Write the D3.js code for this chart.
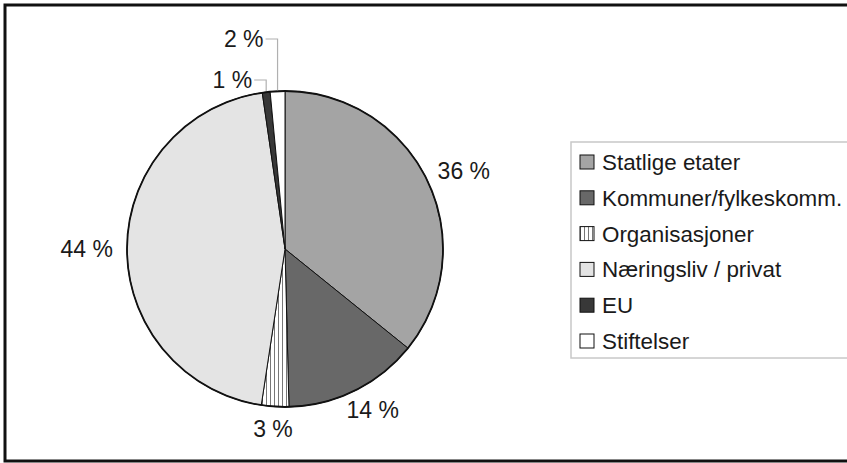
<!DOCTYPE html>
<html>
<head>
<meta charset="utf-8">
<script src="https://cdn.jsdelivr.net/npm/d3@7"></script>
<style>
  body { margin: 0; background: #fff; }
  svg { display: block; font-family: "Liberation Sans", Arial, sans-serif; }
</style>
</head>
<body>
<div id="chart"></div>
<script>
const categories = ["Statlige etater", "Kommuner/fylkeskomm.", "Organisasjoner", "Næringsliv / privat", "EU", "Stiftelser"];
const shares = [35.8, 13.8, 2.8, 45.3, 0.8, 1.5];
const labels = ["36 %", "14 %", "3 %", "44 %", "1 %", "2 %"];
const fills = ["#a4a4a4", "#686868", "url(#stripes)", "#e4e4e4", "#383838", "#ffffff"];

const W = 847, H = 463;
const cx = 285, cy = 249, r = 158;
const fs = 23;

const svg = d3.select("#chart")
  .append("svg")
  .attr("width", W)
  .attr("height", H);

// striped pattern for Organisasjoner
const pat = svg.append("defs")
  .append("pattern")
  .attr("id", "stripes")
  .attr("patternUnits", "userSpaceOnUse")
  .attr("width", 4)
  .attr("height", 4);
pat.append("rect").attr("width", 4).attr("height", 4).attr("fill", "#fff");
pat.append("line")
  .attr("x1", 1.5).attr("x2", 1.5)
  .attr("y1", 0).attr("y2", 4)
  .attr("stroke", "#777")
  .attr("stroke-width", 1);

// outer frame (right edge lies outside the picture)
svg.append("rect")
  .attr("x", 5)
  .attr("y", 5)
  .attr("width", W + 20)
  .attr("height", 456)
  .attr("fill", "none")
  .attr("stroke", "#111")
  .attr("stroke-width", 3);

const data = categories.map((c, i) => ({ name: c, value: shares[i], label: labels[i], fill: fills[i] }));

const pie = d3.pie().sort(null).value((d) => d.value);
const arcs = pie(data);
const arc = d3.arc().innerRadius(0).outerRadius(r);

const g = svg.append("g").attr("transform", "translate(" + cx + "," + cy + ")");

g.selectAll("path")
  .data(arcs)
  .enter()
  .append("path")
  .attr("d", arc)
  .attr("fill", (d) => d.data.fill)
  .attr("stroke", "#111")
  .attr("stroke-width", 1)
  .attr("stroke-linejoin", "round");

// heavier outline round the pie
g.append("circle")
  .attr("r", r)
  .attr("fill", "none")
  .attr("stroke", "#111")
  .attr("stroke-width", 1.8);

// labels
const labelArc = d3.arc().innerRadius(172).outerRadius(172);
const small = { 4: 169, 5: 210 }; // height of label row above centre for the tiny slices

arcs.forEach((d, i) => {
  const t = g.append("text")
    .attr("dy", "0.35em")
    .attr("font-size", fs)
    .attr("fill", "#1a1a1a")
    .text(d.data.label);
  const a = (d.startAngle + d.endAngle) / 2;
  if (small[i]) {
    const x0 = r * Math.sin(a);
    const y0 = -r * Math.cos(a);
    const yl = -small[i];
    g.append("polyline")
      .attr("points", [[x0, y0 - 1], [x0, yl], [x0 - 12, yl]].map((p) => p.join(",")).join(" "))
      .attr("fill", "none")
      .attr("stroke", "#b0b0b0")
      .attr("stroke-width", 1.2);
    t.attr("x", x0 - 14).attr("y", yl).attr("text-anchor", "end");
  } else {
    const [x, y] = labelArc.centroid(d);
    const w = t.node().getComputedTextLength();
    t.attr("x", x + Math.sin(a) * w * 0.5)
      .attr("y", y - Math.cos(a) * 8)
      .attr("text-anchor", "middle");
  }
});

// legend
const legend = svg.append("g").attr("transform", "translate(571,142)");
legend.append("rect")
  .attr("width", 300)
  .attr("height", 216)
  .attr("fill", "#fff")
  .attr("stroke", "#c8c8c8")
  .attr("stroke-width", 1.5);

const rowY = d3.scaleLinear().domain([0, categories.length - 1]).range([20, 199]);

const item = legend.selectAll(".legend-label")
  .data(data)
  .enter()
  .append("g")
  .attr("class", "legend-label")
  .attr("transform", (d, i) => "translate(0," + rowY(i) + ")");

item.append("rect")
  .attr("x", 9)
  .attr("y", -7)
  .attr("width", 14)
  .attr("height", 14)
  .attr("fill", (d) => d.fill)
  .attr("stroke", "#111")
  .attr("stroke-width", 1);

item.append("text")
  .attr("x", 31)
  .attr("dy", "0.36em")
  .attr("font-size", 22.4)
  .attr("fill", "#1a1a1a")
  .text((d) => d.name);
</script>
</body>
</html>
